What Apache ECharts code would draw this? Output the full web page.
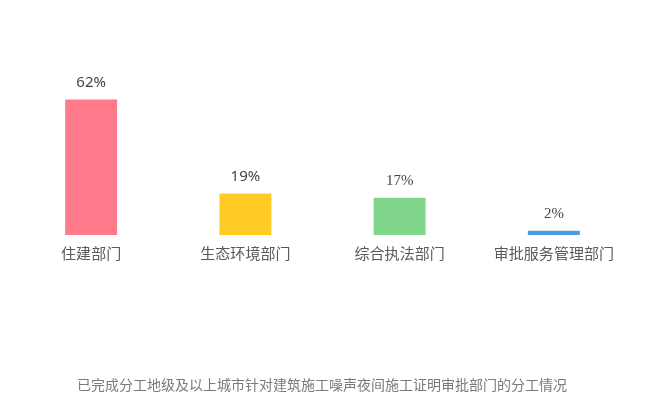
<!DOCTYPE html>
<html><head><meta charset="utf-8">
<script src="https://cdn.jsdelivr.net/npm/echarts@6/dist/echarts.min.js"></script>
<style>html,body{margin:0;padding:0;background:#fff}#c{width:650px;height:405px}</style>
</head><body><div id="c"></div>
<script>
const categories = ['住建部门', '生态环境部门', '综合执法部门', '审批服务管理部门'];
const values = [62, 19, 17, 2];
const colors = ['#ff7b8b', '#ffcb24', '#80d68a', '#4b9de2'];
const labelFonts = ['Noto Sans', 'Noto Sans', 'Liberation Serif', 'Liberation Serif'];
const caption = '已完成分工地级及以上城市针对建筑施工噪声夜间施工证明审批部门的分工情况';

const chart = echarts.init(document.getElementById('c'));
chart.setOption({
  animation: false,
  backgroundColor: '#fff',
  title: {
    text: caption, left: 72, top: 373,
    textStyle: { fontSize: 14, fontWeight: 'normal', color: '#7a7a7a', fontFamily: 'Noto Sans CJK SC' }
  },
  grid: { left: 14, right: 19, top: 82, bottom: 170 },
  xAxis: {
    type: 'category', data: categories,
    axisLine: { show: false }, axisTick: { show: false },
    axisLabel: { interval: 0, margin: 11, fontSize: 15, color: '#5a5a5a', fontFamily: 'Noto Sans CJK SC' }
  },
  yAxis: { type: 'value', min: 0, max: 70, show: false, splitLine: { show: false } },
  series: [{
    type: 'bar', barWidth: 52,
    data: values.map((v, i) => ({
      value: v,
      itemStyle: { color: colors[i] },
      label: { fontFamily: labelFonts[i] }
    })),
    label: {
      show: true, position: 'top', distance: 9, fontSize: 15, color: '#444',
      formatter: p => p.value + '%'
    }
  }]
});
</script></body></html>
